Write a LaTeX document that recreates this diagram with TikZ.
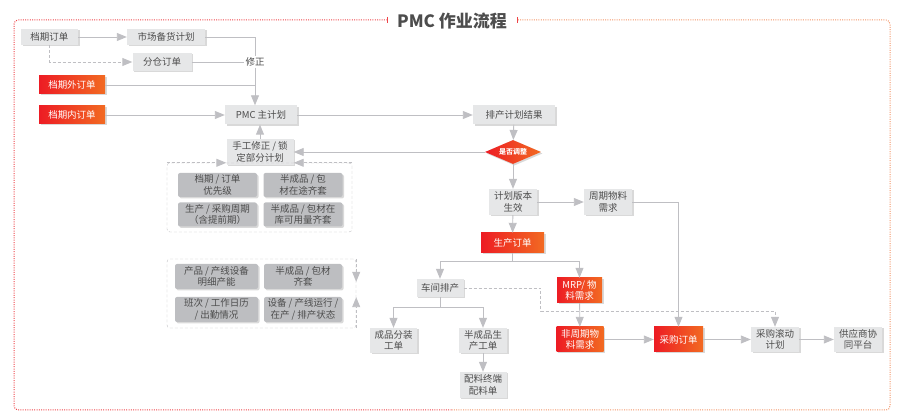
\documentclass[tikz,border=0pt]{standalone}
\usepackage{fontspec}
\setmainfont{Noto Sans CJK SC}
\usetikzlibrary{arrows.meta,shapes.geometric,shadows}
\definecolor{boxgrey}{HTML}{E6E7E8}
\definecolor{cellgrey}{HTML}{BDBEC1}
\definecolor{txtgrey}{HTML}{4D4D4D}
\definecolor{linegrey}{HTML}{BFBFC3}
\definecolor{pmcred}{HTML}{ED1C24}
\definecolor{pmcorange}{HTML}{F26A22}
\definecolor{framered}{HTML}{EE4449}
\definecolor{frameorange}{HTML}{F39466}
\newcommand\boxfont{\fontsize{9.5}{11.5}\selectfont}

\begin{document}
\begin{tikzpicture}[x=1pt,y=-1pt,
  box/.style={fill=boxgrey, text=txtgrey, font=\boxfont, align=center, inner sep=1pt, minimum height=18,
    drop shadow={shadow xshift=1.5pt,shadow yshift=-1.5pt,opacity=.3}},
  redbox/.style={box, left color=pmcred, right color=pmcorange, text=white},
  cell/.style={box, fill=cellgrey, rounded corners=2, minimum width=79, minimum height=24},
  group/.style={draw=linegrey, densely dashed, rounded corners=3},
  line/.style={draw=linegrey, line width=0.9},
  arr/.style={line, -{Triangle[length=10pt,width=8pt]}},
  darr/.style={arr, densely dashed},
  frame/.style={line width=1, dash pattern=on 1pt off 1.3pt, rounded corners=4},
  ]
  \useasboundingbox (0,0) rectangle (903,419);

  % outer frame and title
  \draw[frame, framered, {Bar[width=6pt]}-] (388,20) -| (14,410) -- (452,410);
  \draw[frame, frameorange, {Bar[width=6pt,framered]}-] (517,20) -| (890,410) -- (452,410);
  \node[font=\fontsize{17}{20}\selectfont\bfseries, text=txtgrey] (title) at (452,21) {PMC 作业流程};

  % orders in
  \node[box, minimum width=57, minimum height=16] (dq) at (49.5,37) {档期订单};
  \node[box, minimum width=78, minimum height=16] (scb) at (166,37) {市场备货计划};
  \node[box, minimum width=59] (fc) at (162,62) {分仓订单};
  \node[redbox, minimum width=66] (dwo) at (72,85) {档期外订单};
  \node[redbox, minimum width=66] (dnd) at (72,115) {档期内订单};
  \node[fill=white, text=txtgrey, font=\boxfont, inner sep=1pt] (fix) at (255,62) {修正};

  % master plan loop
  \node[box, minimum width=72, minimum height=19] (pmc) at (261,115) {PMC 主计划};
  \node[box, minimum width=82, minimum height=19] (pcj) at (514,115) {排产计划结果};
  \node[redbox, diamond, aspect=2.3, minimum width=56, minimum height=24, inner sep=0pt,
    font=\fontsize{7}{8}\selectfont\bfseries] (adj) at (513,152) {是否调整};
  \node[box, minimum width=67, minimum height=26] (sg) at (260,152) {手工修正 / 锁\\定部分计划};

  \node[group, minimum width=185, minimum height=69] (ct1) at (259.5,197.5) {};
  \node[cell] (c11) at (217.5,185) {档期 / 订单\\优先级};
  \node[cell] (c12) at (303,185) {半成品 / 包\\材在途齐套};
  \node[cell] (c21) at (217.5,214.5) {生产 / 采购周期\\（含提前期）};
  \node[cell] (c22) at (303,214.5) {半成品 / 包材在\\库可用量齐套};

  % release
  \node[box, minimum width=48, minimum height=26] (jhb) at (513,202) {计划版本\\生效};
  \node[box, minimum width=48, minimum height=26] (zq) at (608,202) {周期物料\\需求};
  \node[redbox, minimum width=63, minimum height=20] (scd) at (512.5,243) {生产订单};
  \node[box, minimum width=47] (cjpc) at (440,288) {车间排产};
  \node[redbox, minimum width=45, minimum height=25] (mrp) at (579.5,290.5) {MRP/ 物\\料需求};

  \node[group, minimum width=189, minimum height=69] (ct2) at (261.5,293.5) {};
  \node[cell, minimum width=83, minimum height=25] (d11) at (216.5,276.5) {产品 / 产线设备\\明细产能};
  \node[cell, minimum width=78, minimum height=25] (d12) at (303,276.5) {半成品 / 包材\\齐套};
  \node[cell, minimum width=83, minimum height=25] (d21) at (216.5,309.5) {班次 / 工作日历\\/ 出勤情况};
  \node[cell, minimum width=78, minimum height=25] (d22) at (303,309.5) {设备 / 产线运行 /\\在产 / 排产状态};

  \node[box, minimum width=47, minimum height=25] (cpfz) at (393.5,340.5) {成品分装\\工单};
  \node[box, minimum width=48, minimum height=25] (bcp) at (483,340.5) {半成品生\\产工单};
  \node[box, minimum width=47, minimum height=26] (plzd) at (483,385) {配料终端\\配料单};
  \node[redbox, minimum width=47, minimum height=25] (fzq) at (580,339.5) {非周期物\\料需求};
  \node[redbox, minimum width=49, minimum height=25] (cgd) at (678.5,339.5) {采购订单};
  \node[box, minimum width=48, minimum height=25] (gdjh) at (775,339.5) {采购滚动\\计划};
  \node[box, minimum width=48, minimum height=25] (gys) at (858,339.5) {供应商协\\同平台};

  % connectors
  \draw[arr] (dq) -- (scb);
  \draw[darr] (dq.south) |- (fc);
  \draw[line] (scb.east) -| (fix.north);
  \draw[line] (fc.east) -- (fix.west);
  \draw[line] (dwo.east) -- (dwo.east -| fix);
  \draw[arr] (fix.south) -- (fix.south |- pmc.north);
  \draw[arr] (dnd) -- (pmc);
  \draw[arr] (pmc) -- (pcj);
  \draw[arr] (pcj) -- (adj);
  \draw[arr] (adj) -- (sg);
  \draw[arr] (sg.north) -- (sg.north |- pmc.south);
  \draw[darr] (ct1.north west) -- (ct1.north west -| sg.west);
  \draw[darr] (ct1.north east) -- (ct1.north east -| sg.east);
  \draw[arr] (adj) -- (jhb);
  \draw[arr] (jhb) -- (zq);
  \draw[arr] (jhb) -- (scd);
  \draw[arr] (zq.east) -| (cgd);
  \draw[arr] (scd.south) -- ++(0,8) -| (cjpc);
  \draw[arr] (scd.south) -- ++(0,8) -| (mrp);
  \draw[darr] (cjpc.east) -| ++(77,23) -| (gdjh);
  \draw[darr] (ct2.north east) -- ++(0,23);
  \draw[darr] (ct2.south east) -- ++(0,-31);
  \draw[arr] (cjpc.south) -- ++(0,10) -| (cpfz);
  \draw[arr] (cjpc.south) -- ++(0,10) -| (bcp);
  \draw[arr] (bcp) -- (plzd);
  \draw[arr] (mrp) -- (fzq);
  \draw[arr] (fzq) -- (cgd);
  \draw[arr] (cgd) -- (gdjh);
  \draw[arr] (gdjh) -- (gys);
\end{tikzpicture}
\end{document}
